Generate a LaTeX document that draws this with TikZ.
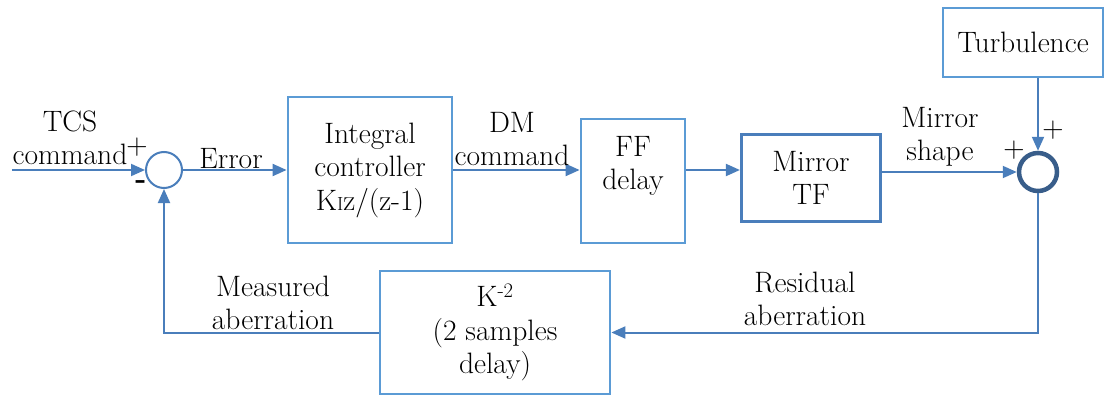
\documentclass[tikz,border=0pt]{standalone}
\usepackage{fontspec}
\usetikzlibrary{arrows.meta}
\definecolor{boxblue}{HTML}{5B9BD5}
\definecolor{linblue}{HTML}{4A7EBB}
\definecolor{darkblue}{HTML}{385D8A}
\begin{document}
\begin{tikzpicture}[x=1pt,y=-1pt,
  every node/.style={font=\fontsize{29.5}{33.5}\selectfont, inner sep=0pt, align=center},
  blk/.style={draw=boxblue, line width=2.8pt, minimum width=#1},
  conn/.style={draw=linblue, line width=2pt, -{Triangle[length=14pt,width=12pt]}},
  lbl/.style={}]
\useasboundingbox (0,0) rectangle (1111,396);
% blocks
\node[blk=164pt, minimum height=146pt] (int) at (370,170) {Integral\\controller\\K{\fontsize{19}{19}\selectfont I}z/(z-1)};
\node[blk=104pt, minimum height=124pt] (ff) at (633,181) {};
\node[blk=139pt, minimum height=87pt, draw=linblue, line width=3.2pt] (mir) at (811,178) {Mirror\\TF};
\node[blk=160pt, minimum height=69pt] (turb) at (1023,42.5) {Turbulence};
\node[blk=230pt, minimum height=123pt] (kb) at (495,332.5) {K\textsuperscript{-2}\\(2 samples\\delay)};
\node (ffl) at (633,166) {FF\\delay};
% summing junctions
\node[circle, draw=linblue, line width=2pt, minimum size=36pt] (s1) at (164,170) {};
\node[circle, draw=darkblue, line width=4.5pt, minimum size=38pt] (s2) at (1038,172) {};
\coordinate (in) at (12,170);
% connectors
\draw[conn] (in) -- (s1.west);
\draw[conn] (s1.east) -- (int.west |- s1);
\draw[conn] (int.east |- s1) -- (ff.west |- s1);
\draw[conn] (ff.east |- s1) -- (mir.west |- s1);
\draw[conn] (mir.east |- s2) -- (s2.west);
\draw[conn] (turb.south -| s2) -- (s2.north);
\draw[conn] (s2.south) |- (kb.east);
\draw[conn] (kb.west) -| (s1.south);
% labels
\node (tcs) at (70,138) {TCS\\command};
\node (p1) at (137,147) {+};
\node (m1) at (141,185) {\textbf{-}};
\node (err) at (231,159) {Error};
\node (dm) at (512,139) {DM\\command};
\node (ms) at (940,137) {Mirror\\shape};
\node (p2) at (1014,150) {+};
\node (p3) at (1053,130) {+};
\node (ra) at (805,299) {Residual\\aberration};
\node (ma) at (273,303) {Measured\\aberration};
\end{tikzpicture}
\end{document}
